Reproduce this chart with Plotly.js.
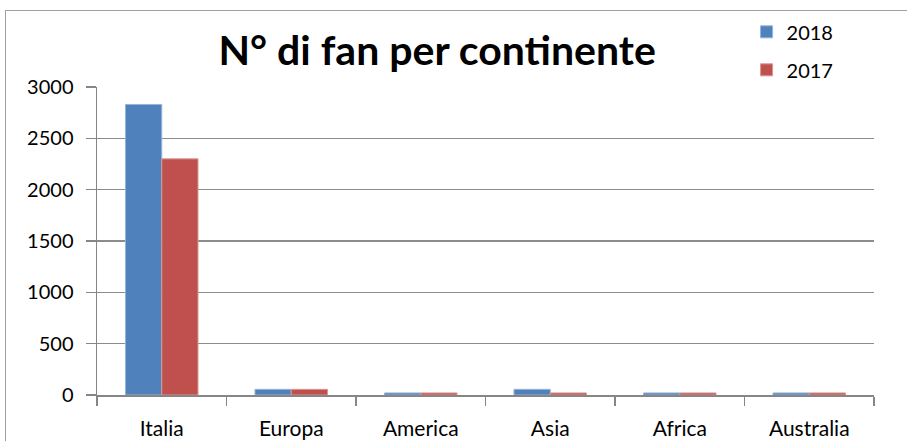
<!DOCTYPE html>
<html>
<head>
<meta charset="utf-8">
<script src="https://cdn.plot.ly/plotly-3.0.1.min.js"></script>
<style>
html,body{margin:0;padding:0;background:#fff;overflow:hidden;}
#frame{position:absolute;left:5px;top:10px;width:920px;height:460px;border:1.5px solid #a0a0a0;box-sizing:border-box;}
#chart{position:absolute;left:0;top:0;width:907px;height:441px;}
</style>
</head>
<body>
<div id="frame"></div>
<div id="chart"></div>
<script>
var categories = ["Italia", "Europa", "America", "Asia", "Africa", "Australia"];
var fans2018 = [2830, 55, 20, 55, 20, 20];
var fans2017 = [2300, 55, 20, 20, 20, 20];
var yTicks = [0, 500, 1000, 1500, 2000, 2500, 3000];

var font = "Lato, 'Open Sans', sans-serif";

var traces = [
  {type: "bar", name: "2018", x: categories, y: fans2018, legendgroup: "a",
   marker: {color: "#4F81BD", line: {color: "#95B3D7", width: 1}}},
  {type: "bar", name: "2017", x: categories, y: fans2017, legendgroup: "b",
   marker: {color: "#C0504D", line: {color: "#D99694", width: 1}}}
];

var layout = {
  width: 907, height: 441,
  margin: {l: 97, r: 33, t: 87, b: 46, autoexpand: false},
  paper_bgcolor: "rgba(0,0,0,0)",
  plot_bgcolor: "rgba(0,0,0,0)",
  barmode: "group",
  bargap: 0.44,
  bargroupgap: 0,
  showlegend: true,
  font: {family: font, color: "#000", size: 20},
  title: {text: "<b>N° di fan per continente</b>", font: {family: font, size: 41, color: "#000"},
          x: 0.482, xanchor: "center", y: 0.885, yanchor: "middle"},
  legend: {xref: "paper", yref: "container", x: 0.836, y: 0.972, xanchor: "left", yanchor: "top",
           font: {size: 20, family: font},
           traceorder: "grouped", itemwidth: 30, tracegroupgap: 9, bgcolor: "rgba(0,0,0,0)"},
  xaxis: {
    type: "category",
    showline: true, linecolor: "#868686", linewidth: 1.5,
    ticks: "outside", tickson: "boundaries", ticklen: 9, tickcolor: "#868686", tickwidth: 1.5,
    showgrid: false, zeroline: false, ticklabelstandoff: 14,
    tickfont: {size: 21, family: font}
  },
  yaxis: {
    range: [0, 3000],
    tickvals: yTicks,
    showline: true, linecolor: "#868686", linewidth: 1.5,
    ticks: "outside", ticklen: 10, tickcolor: "#868686", tickwidth: 1.5,
    showgrid: true, gridcolor: "#8c8c8c", gridwidth: 1.2,
    zeroline: false, ticklabelstandoff: 8,
    tickfont: {size: 20, family: font}
  }
};

Plotly.newPlot("chart", traces, layout, {displayModeBar: false, staticPlot: true});
</script>
</body>
</html>
